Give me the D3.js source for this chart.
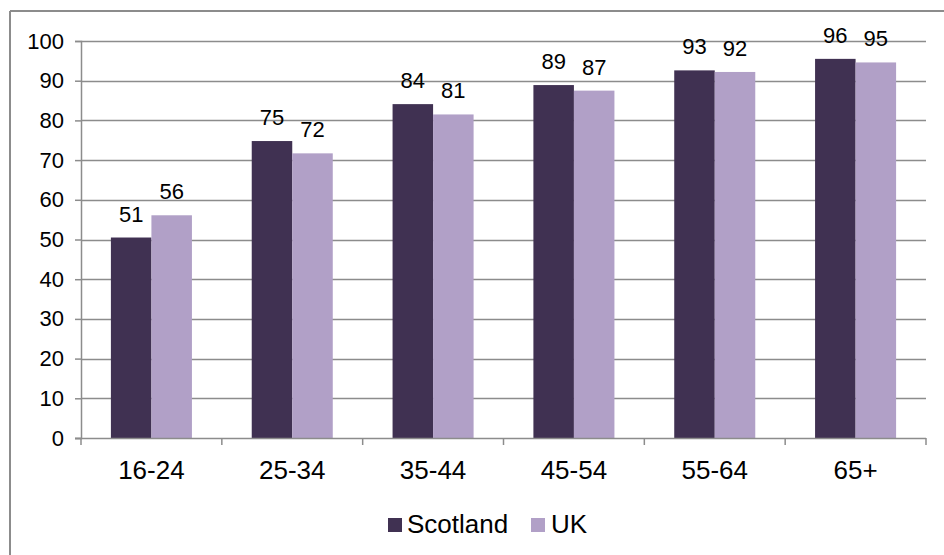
<!DOCTYPE html>
<html>
<head>
<meta charset="utf-8">
<script src="https://cdn.jsdelivr.net/npm/d3@7"></script>
<style>
  body { margin: 0; background: #fff; }
  svg { display: block; font-family: "Liberation Sans", Arial, sans-serif; }
</style>
</head>
<body>
<svg id="chart" width="944" height="555"></svg>
<script>
const categories = ["16-24", "25-34", "35-44", "45-54", "55-64", "65+"];
const seriesNames = ["Scotland", "UK"];
const scotland = [50.5, 74.8, 84.1, 88.9, 92.6, 95.5];
const uk = [56.1, 71.7, 81.5, 87.5, 92.2, 94.6];
const scotlandLabels = ["51", "75", "84", "89", "93", "96"];
const ukLabels = ["56", "72", "81", "87", "92", "95"];
const yTicks = [0, 10, 20, 30, 40, 50, 60, 70, 80, 90, 100];
const colors = ["#403152", "#B1A0C7"];

const svg = d3.select("#chart");
const plotLeft = 81, plotRight = 926, plotTop = 41, plotBottom = 438;
const axisColor = "#8c8c8c";

// outer border (top and left visible)
svg.append("line").attr("x1", 10).attr("x2", 944).attr("y1", 11).attr("y2", 11)
  .attr("stroke", axisColor).attr("stroke-width", 2);
svg.append("line").attr("x1", 10).attr("x2", 10).attr("y1", 11).attr("y2", 555)
  .attr("stroke", axisColor).attr("stroke-width", 2);

const y = d3.scaleLinear().domain([0, 100]).range([plotBottom, plotTop]);
const x0 = d3.scaleBand().domain(categories).range([plotLeft, plotRight]).padding(0);
const x1 = d3.scaleBand().domain(seriesNames).range([0, x0.bandwidth()])
  .paddingInner(0).paddingOuter(0.738);

// gridlines
svg.append("g").selectAll("line").data(yTicks.filter(d => d > 0)).join("line")
  .attr("x1", plotLeft).attr("x2", plotRight)
  .attr("y1", d => Math.round(y(d)) + 0.5).attr("y2", d => Math.round(y(d)) + 0.5)
  .attr("stroke", axisColor).attr("stroke-width", 1.5);

// y axis
const yAxis = svg.append("g").attr("transform", `translate(${plotLeft},0)`)
  .call(d3.axisLeft(y).tickValues(yTicks).tickSize(6).tickPadding(11));
yAxis.select(".domain").attr("stroke", axisColor).attr("stroke-width", 1.5);
yAxis.selectAll(".tick line").attr("stroke", axisColor).attr("stroke-width", 1.5);
yAxis.selectAll(".tick text").attr("font-size", 22).attr("fill", "#000")
  .attr("font-family", "Liberation Sans, Arial, sans-serif");

// bars
const data = categories.map((c, i) => ({ cat: c, vals: [
  { s: "Scotland", v: scotland[i], lab: scotlandLabels[i] },
  { s: "UK", v: uk[i], lab: ukLabels[i] } ] }));

const groups = svg.append("g").selectAll("g").data(data).join("g")
  .attr("transform", d => `translate(${x0(d.cat)},0)`);
groups.selectAll("rect").data(d => d.vals).join("rect")
  .attr("x", d => x1(d.s)).attr("width", x1.bandwidth())
  .attr("y", d => y(d.v)).attr("height", d => y(0) - y(d.v))
  .attr("fill", (d, i) => colors[i]);
groups.selectAll("text").data(d => d.vals).join("text")
  .attr("x", d => x1(d.s) + x1.bandwidth() / 2)
  .attr("y", d => y(d.v) - 16)
  .attr("text-anchor", "middle").attr("font-size", 22).attr("fill", "#000")
  .text(d => d.lab);

// x axis
const xAxisG = svg.append("g").attr("transform", `translate(0,${plotBottom})`);
xAxisG.append("line").attr("x1", plotLeft - 6).attr("x2", plotRight).attr("y1", 0.5).attr("y2", 0.5)
  .attr("stroke", axisColor).attr("stroke-width", 1.5);
const boundaries = categories.map(c => x0(c)).concat([x0(categories[categories.length - 1]) + x0.bandwidth()]);
xAxisG.selectAll("line.tk").data(boundaries).join("line").attr("class", "tk")
  .attr("x1", d => d).attr("x2", d => d).attr("y1", 0).attr("y2", 7)
  .attr("stroke", axisColor).attr("stroke-width", 1.5);
xAxisG.selectAll("text").data(categories).join("text")
  .attr("x", d => x0(d) + x0.bandwidth() / 2).attr("y", 41)
  .attr("text-anchor", "middle").attr("font-size", 26).attr("fill", "#000")
  .text(d => d);

// legend
const legend = svg.append("g");
const legendItems = [{ name: "Scotland", x: 388, tx: 407 }, { name: "UK", x: 531, tx: 551 }];
legendItems.forEach((it, i) => {
  legend.append("rect").attr("x", it.x).attr("y", 518).attr("width", 14).attr("height", 14)
    .attr("fill", colors[i]);
  legend.append("text").attr("x", it.tx).attr("y", 533).attr("font-size", 26)
    .attr("fill", "#000").text(seriesNames[i]);
});
</script>
</body>
</html>
